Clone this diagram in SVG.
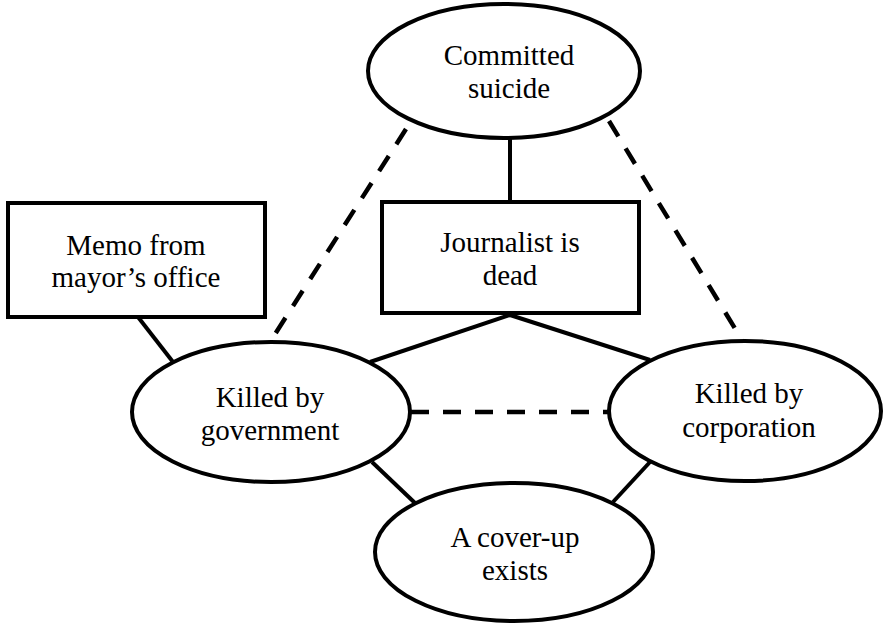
<svg xmlns="http://www.w3.org/2000/svg" width="883" height="624" viewBox="0 0 883 624">
<style>
.n{fill:#fff;stroke:#000;stroke-width:4}
.t{font-family:"Liberation Serif","Times New Roman",serif;font-size:29px;fill:#000;text-anchor:middle}
.c line{stroke:#000;stroke-width:4}
.c .d{stroke-dasharray:18 14;stroke-width:4.5}
</style>
<rect width="883" height="624" fill="#fff"/>
<g class="c" id="connectors">
<line x1="510" y1="138" x2="510" y2="202"/>
<line class="d" x1="406" y1="129" x2="270" y2="342"/>
<line class="d" x1="609" y1="121" x2="742" y2="340"/>
<line x1="138" y1="317" x2="173" y2="362"/>
<line x1="510" y1="315" x2="370" y2="362"/>
<line x1="510" y1="315" x2="650" y2="360"/>
<line class="d" x1="411" y1="412" x2="608" y2="412"/>
<line x1="372" y1="462" x2="415" y2="503"/>
<line x1="650" y1="462" x2="613" y2="502"/>
</g>
<g id="suicide">
<ellipse class="n" cx="504" cy="71" rx="136" ry="67"/>
<text class="t" x="509" y="65">Committed</text>
<text class="t" x="509" y="98">suicide</text>
</g>
<g id="memo">
<rect class="n" x="8" y="203" width="257" height="114"/>
<text class="t" x="136" y="255">Memo from</text>
<text class="t" x="136" y="287">mayor’s office</text>
</g>
<g id="journalist">
<rect class="n" x="382" y="202" width="257" height="111"/>
<text class="t" x="510" y="252">Journalist is</text>
<text class="t" x="510" y="285">dead</text>
</g>
<g id="government">
<ellipse class="n" cx="271" cy="412" rx="139" ry="70"/>
<text class="t" x="270" y="407">Killed by</text>
<text class="t" x="270" y="440">government</text>
</g>
<g id="corporation">
<ellipse class="n" cx="745" cy="411" rx="136" ry="70"/>
<text class="t" x="749" y="403">Killed by</text>
<text class="t" x="749" y="437">corporation</text>
</g>
<g id="coverup">
<ellipse class="n" cx="514" cy="552" rx="139" ry="69"/>
<text class="t" x="515" y="547">A cover-up</text>
<text class="t" x="515" y="580">exists</text>
</g>
</svg>
